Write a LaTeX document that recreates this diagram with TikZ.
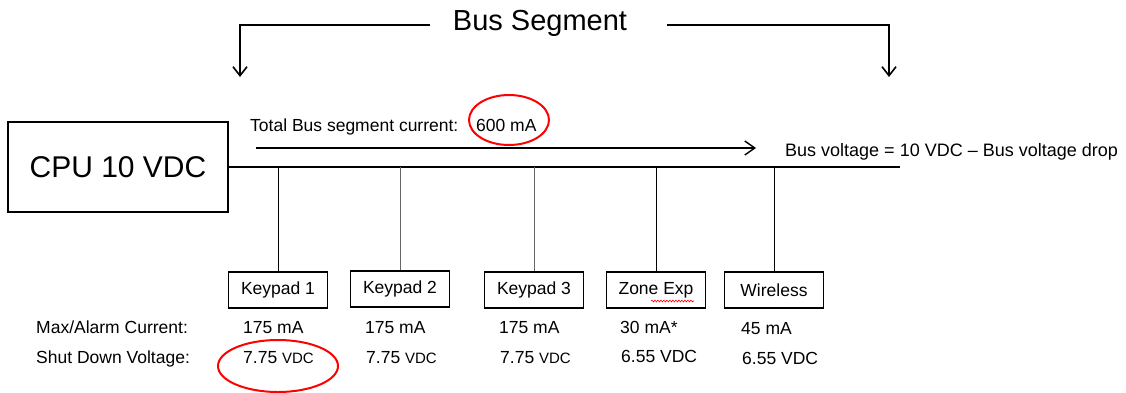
\documentclass[tikz,border=0pt]{standalone}
\usepackage{fontspec}
\setmainfont{Liberation Sans}
\usetikzlibrary{arrows.meta,decorations.pathmorphing}
\begin{document}
\begin{tikzpicture}[x=1pt,y=-1pt,
  txt/.style={font=\fontsize{17.5}{20}\selectfont, inner sep=0pt, anchor=base west},
  devbox/.style={draw, line width=1.4pt, minimum width=99pt, minimum height=36pt, inner sep=0pt, font=\fontsize{17.5}{20}\selectfont},
  drop/.style={line width=0.9pt},
  bracket/.style={line width=2.4pt, -{Straight Barb[length=9pt,width=14pt,line width=1.6pt]}},
  hilite/.style={draw=red, line width=2pt}
]
\useasboundingbox (0,0) rectangle (1126,392);

% title and bracket
\node[inner sep=0pt, font=\fontsize{29}{33}\selectfont] (title) at (540,23) {Bus Segment};
\coordinate (bl) at (240,77);
\coordinate (br) at (889,77);
\draw[bracket] ([xshift=-23pt,yshift=-2pt]title.west) -| (bl);
\draw[bracket] ([xshift=40pt,yshift=-2pt]title.east) -| (br);

% CPU and bus
\node[draw, line width=1.6pt, minimum width=220pt, minimum height=90pt, inner sep=0pt,
      font=\fontsize{30}{34}\selectfont] (cpu) at (118,167) {CPU 10 VDC};
\coordinate (busend) at (900,167);
\draw[line width=2.5pt] (cpu.east) -- (busend);

% current arrow and labels
\coordinate (arS) at (256,148);
\coordinate (arE) at (756,148);
\draw[line width=1.4pt, -{Straight Barb[length=10pt,width=14pt,line width=1.4pt]}] (arS) -- (arE);
\node[txt] (tot) at (250,131) {Total Bus segment current:};
\node[txt] (six) at (476,131) {600 mA};
\draw[hilite] (509,120) ellipse [x radius=40, y radius=25];
\node[txt, font=\fontsize{18}{21}\selectfont] (bv) at (785,156) {Bus voltage = 10 VDC -- Bus voltage drop};

% devices
\node[devbox] (k1) at (278,290) {Keypad 1};
\node[devbox] (k2) at (400,289) {Keypad 2};
\node[devbox] (k3) at (534,290) {Keypad 3};
\node[devbox] (ze) at (656,290) {Zone Exp};
\node[devbox] (wl) at (774,290) {Wireless};
\coordinate (wa) at (651,301);
\coordinate (wb) at (694,301);
\draw[red, line width=0.6pt, decorate, decoration={snake, amplitude=0.9pt, segment length=3pt}] (wa) -- (wb);

\draw[drop] (k1.north) -- (k1.north |- busend);
\draw[drop, black!60] (k2.north) -- (k2.north |- busend);
\draw[drop, black!60] (k3.north) -- (k3.north |- busend);
\draw[drop] (ze.north) -- (ze.north |- busend);
\draw[drop] (wl.north) -- (wl.north |- busend);

% table rows
\node[txt] (maxl) at (36,333) {Max/Alarm Current:};
\node[txt] (sdl) at (36,363) {Shut Down Voltage:};

\node[txt] (c1) at (243,333) {175 mA};
\node[txt] (c2) at (365,333) {175 mA};
\node[txt] (c3) at (499,333) {175 mA};
\node[txt] (c4) at (620,333) {30 mA*};
\node[txt] (c5) at (741,334) {45 mA};

\node[txt] (v1) at (243,363) {7.75 {\fontsize{15}{18}\selectfont VDC}};
\node[txt] (v2) at (366,363) {7.75 {\fontsize{15}{18}\selectfont VDC}};
\node[txt] (v3) at (500,363) {7.75 {\fontsize{15}{18}\selectfont VDC}};
\node[txt] (v4) at (621,362) {6.55 VDC};
\node[txt] (v5) at (742,364) {6.55 VDC};
\draw[hilite] (278,366) ellipse [x radius=60, y radius=26];
\end{tikzpicture}
\end{document}
